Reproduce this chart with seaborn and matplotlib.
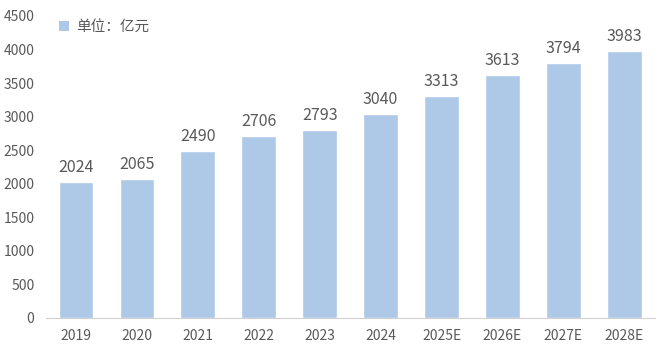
import pandas as pd
import matplotlib.pyplot as plt
import seaborn as sns
from matplotlib.patches import Patch

# Dados
anos = ['2019', '2020', '2021', '2022', '2023', '2024', '2025E', '2026E', '2027E', '2028E']
valores = [2024, 2065, 2490, 2706, 2793, 3040, 3313, 3613, 3794, 3983]
yticks = [0, 500, 1000, 1500, 2000, 2500, 3000, 3500, 4000, 4500]

dados = pd.DataFrame({'Ano': anos, 'Valor': valores})

sns.set_style('white')
plt.rcParams['font.family'] = ['Noto Sans CJK SC', 'DejaVu Sans']

cor_barra = '#AEC8E8'
cor_texto = '#595959'

fig = plt.figure(figsize=(6.6, 3.54), dpi=100)
ax = fig.add_axes([0.069, 0.102, 0.923, 0.853])
sns.barplot(data=dados, x='Ano', y='Valor', color=cor_barra, width=0.57, ax=ax, saturation=1)

# Rótulos de valor
for i, v in enumerate(valores):
    ax.text(i, v + 90, str(v), ha='center', va='bottom', fontsize=11.5, color=cor_texto)

ax.set_ylim(0, 4500)
ax.set_yticks(yticks)
ax.set_xlim(-0.5, len(anos) - 0.5)
ax.set_xlabel('')
ax.set_ylabel('')
ax.tick_params(axis='both', length=0, labelsize=10, colors=cor_texto)
ax.tick_params(axis='x', pad=8)
ax.tick_params(axis='y', pad=8)

for lado in ['top', 'right', 'left']:
    ax.spines[lado].set_visible(False)
ax.spines['bottom'].set_color('#D0D0D0')

handle = Patch(facecolor=cor_barra, edgecolor='none', label='单位：亿元')
ax.legend(handles=[handle], loc='upper left', bbox_to_anchor=(0.0, 1.03), frameon=False,
          fontsize=10.5, labelcolor=cor_texto, handlelength=0.7, handleheight=0.7,
          handletextpad=0.5)

plt.savefig('out.png', dpi=100)
